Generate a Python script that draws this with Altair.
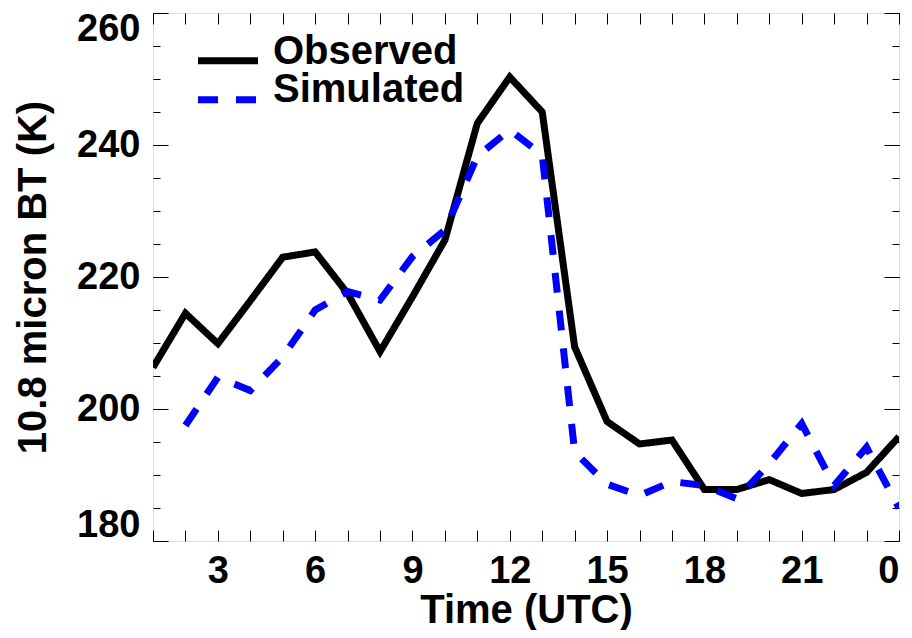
import altair as alt
import pandas as pd

hours = list(range(1, 25))
observed = [206.3, 214.5, 209.9, 216.4, 223.0, 223.8, 217.5, 208.7, 217.0, 225.6,
            243.3, 250.3, 245.0, 209.4, 198.1, 194.7, 195.3, 187.8, 187.8, 189.3,
            187.2, 187.8, 190.4, 195.8]
sim_hours = list(range(2, 25))
simulated = [197.5, 204.8, 202.8, 207.9, 215.0, 217.8, 216.5, 223.1, 227.1,
             238.3, 242.3, 238.5, 193.5, 188.6, 186.9, 189.0, 188.4, 186.4, 191.7,
             197.8, 188.4, 194.2, 185.0]
series_names = ["Observed", "Simulated"]
x_tick_values = list(range(1, 25))
y_major = [180, 200, 220, 240, 260]
y_minor = list(range(180, 261, 5))

df = pd.concat([
    pd.DataFrame({"hour": hours, "bt": observed, "series": series_names[0]}),
    pd.DataFrame({"hour": sim_hours, "bt": simulated, "series": series_names[1]}),
], ignore_index=True)
legend_df = pd.DataFrame({"series": series_names})

FONT = "Liberation Sans"
xs = alt.Scale(domain=[1, 24], nice=False, zero=False)
ys = alt.Scale(domain=[180, 260], nice=False, zero=False)
color_scale = alt.Scale(domain=series_names, range=["black", "#0000ff"])
dash_scale = alt.Scale(domain=series_names, range=[[1, 0], [20, 18]])

common_axis = dict(domain=False, grid=False, tickColor="black", tickWidth=1,
                   labelFont=FONT, labelFontSize=38, labelFontWeight="bold",
                   labelColor="black", titleFont=FONT, titleFontSize=40,
                   titleFontWeight="bold", titleColor="black")

x_bottom = alt.Axis(orient="bottom", values=x_tick_values, offset=-11, tickSize=11,
                    labelPadding=11,
                    labelExpr="datum.value % 3 == 0 ? (datum.value == 24 ? '0' : datum.label) : ''",
                    title="Time (UTC)", titleY=92, titleBaseline="alphabetic", **common_axis)
x_top = alt.Axis(orient="top", values=x_tick_values, offset=-11, tickSize=11,
                 labels=False, title=None, **common_axis)
y_left_major = alt.Axis(orient="left", values=y_major, offset=-15, tickSize=15,
                        labelPadding=13, labelFlush=True, labelFlushOffset=3, format="d",
                        title="10.8 micron BT (K)", titleX=-123, titleBaseline="alphabetic",
                        **common_axis)
y_left_minor = alt.Axis(orient="left", values=y_minor, offset=-7, tickSize=7,
                        labels=False, title=None, **common_axis)
y_right_major = alt.Axis(orient="right", values=y_major, offset=-15, tickSize=15,
                         labels=False, title=None, **common_axis)
y_right_minor = alt.Axis(orient="right", values=y_minor, offset=-7, tickSize=7,
                         labels=False, title=None, **common_axis)

lines = alt.Chart(df).mark_line(strokeWidth=7, strokeCap="butt", strokeJoin="miter",
                                clip=True).encode(
    x=alt.X("hour:Q", scale=xs, axis=x_bottom),
    y=alt.Y("bt:Q", scale=ys, axis=y_left_major),
    color=alt.Color("series:N", scale=color_scale, legend=None),
    strokeDash=alt.StrokeDash("series:N", scale=dash_scale, legend=None),
)


def ghost(xaxis, yaxis):
    return alt.Chart(df).mark_line(opacity=0).encode(
        x=alt.X("hour:Q", scale=xs, axis=xaxis),
        y=alt.Y("bt:Q", scale=ys, axis=yaxis),
        detail="series:N",
    )


# legend (inside the plot, top-left)
legend_symbols = alt.Chart(legend_df).mark_rule(strokeWidth=7, strokeCap="butt").encode(
    x=alt.value(45), x2=alt.value(105),
    y=alt.Y("series:N", scale=alt.Scale(type="point", domain=series_names,
                                        range=[47.7, 86.7], padding=0),
            axis=None),
    color=alt.Color("series:N", scale=color_scale, legend=None),
    strokeDash=alt.StrokeDash("series:N", scale=dash_scale, legend=None),
)
legend_labels = alt.Chart(legend_df).mark_text(
    align="left", baseline="alphabetic", font=FONT, fontSize=40, fontWeight="bold",
    color="black").encode(
    x=alt.value(120),
    y=alt.Y("series:N", scale=alt.Scale(type="point", domain=series_names,
                                        range=[51, 89], padding=0),
            axis=None),
    text="series:N",
)

chart = alt.layer(
    lines,
    ghost(x_top, y_left_minor),
    ghost(None, y_right_major),
    ghost(None, y_right_minor),
    legend_symbols,
    legend_labels,
).resolve_scale(y="independent").resolve_axis(x="independent", y="independent").properties(
    width=746, height=528,
    autosize=alt.AutoSizeParams(type="none"),
    padding={"left": 145, "top": 5, "right": 5, "bottom": 89},
).configure_view(stroke="black", strokeWidth=1.5).configure(background="white")

chart.save("out.html", embed_options={"renderer": "svg", "actions": False})
